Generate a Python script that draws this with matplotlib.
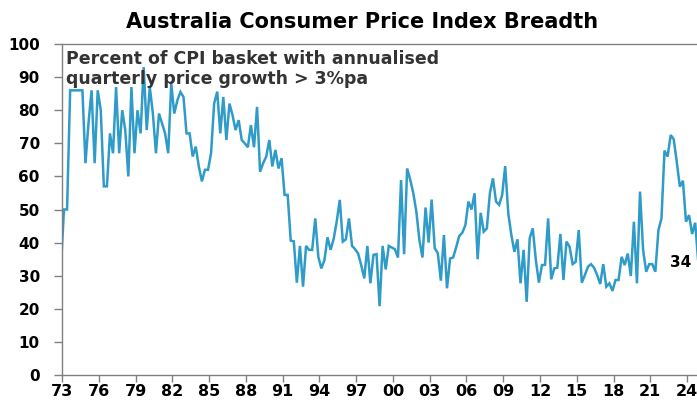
import matplotlib
matplotlib.use("Agg")
import matplotlib.pyplot as plt
import pandas as pd

# Percent of CPI basket with annualised quarterly price growth > 3%pa
# quarterly, Dec 1972 .. Dec 2024
breadth = [
    33, 50, 50, 86, 86, 86, 86, 86, 64, 76, 86,
    64, 86, 80, 57, 57, 73, 67, 87, 67, 80,
    74, 60, 87, 67, 80, 73, 93, 74, 87, 79,
    67, 79, 76, 73, 67, 88, 79, 83, 85.5, 84,
    73, 73, 66, 69, 63, 58.5, 62, 62, 67, 82,
    85.6, 73, 84, 71, 82, 78.5, 74, 77, 71, 70,
    68.8, 75.5, 68.8, 81, 61.4, 64, 66, 71, 63, 68,
    62.4, 65.5, 54.4, 54.4, 40.6, 40.4, 27.9, 39, 26.7, 39,
    37.8, 37.8, 47.3, 35.7, 32.2, 34.7, 41.6, 37.8, 41, 46.3,
    52.9, 40.3, 41, 47.3, 39, 38, 36.7, 33.2, 29.2, 39,
    27.7, 36.3, 36.5, 20.8, 39, 31.9, 39, 38.5, 38, 35.5,
    58.9, 36.5, 62.4, 59, 54.9, 49.3, 40.8, 35.5, 50.6, 40,
    53, 38.3, 36.8, 28.5, 42.3, 26.2, 35.2, 35.5, 38.6, 42,
    43, 45.3, 52.4, 50, 54.9, 35, 49, 43.3, 44.3, 54.9,
    59.4, 52.4, 51.4, 54.4, 63.1, 48.8, 42.3, 37.2, 41, 27.7,
    37.8, 22.1, 41.3, 44.3, 34.7, 27.9, 33.2, 33.3, 47.3, 28.9,
    32.2, 32.4, 42.6, 28.7, 40.3, 38.8, 33.5, 34.2, 43.8, 27.9,
    30.2, 32.7, 33.5, 32.4, 30.2, 27.5, 33.5, 26.7, 27.7, 25.4,
    28.7, 28.7, 35.7, 33.2, 36.7, 29.9, 46.3, 27.7, 55.4, 37.8,
    31.2, 33.5, 33.5, 31.2, 43.8, 47.3, 67.8, 66, 72.5, 71.2,
    64.4, 56.9, 58.7, 46.3, 48.3, 42.6, 46, 34,
]
dates = pd.date_range("1972-12-01", periods=len(breadth), freq="3MS")

tick_years = list(range(1973, 2025, 3))
tick_labels = [f"{y % 100:02d}" for y in tick_years]
y_ticks = list(range(0, 101, 10))

line_color = "#2f9bc8"
spine_color = "#808080"

plt.rcParams["font.family"] = ["DejaVu Sans"]
plt.rcParams["font.weight"] = "bold"

fig = plt.figure(figsize=(6.97, 4.01), dpi=100)
ax = fig.add_axes([62 / 697, 26 / 401, 637.3 / 697, 331 / 401])

ax.plot(dates, breadth, color=line_color, lw=1.8, solid_joinstyle="miter")

ax.set_xlim(pd.Timestamp("1973-01-01"), pd.Timestamp("2025-01-01"))
ax.set_ylim(0, 100)
ax.set_xticks([pd.Timestamp(f"{y}-01-01") for y in tick_years])
ax.set_xticklabels(tick_labels, fontsize=11.5, fontweight="bold")
ax.set_yticks(y_ticks)
ax.set_yticklabels([str(v) for v in y_ticks], fontsize=11, fontweight="bold")

for side in ["left", "bottom", "top"]:
    ax.spines[side].set_color(spine_color)
    ax.spines[side].set_linewidth(1.0)
ax.spines["right"].set_visible(False)
ax.tick_params(axis="y", length=6, width=1, color=spine_color, pad=10)
ax.tick_params(axis="x", length=5, width=1, color=spine_color, pad=1.5)

ax.text(0.006, 0.982,
        "Percent of CPI basket with annualised\nquarterly price growth > 3%pa",
        transform=ax.transAxes, ha="left", va="top", fontsize=12.5,
        fontweight="bold", color="#333333", linespacing=1.15)

# last value label
ax.annotate(f"{breadth[-1]:.0f}", xy=(dates[-1], breadth[-1]), xytext=(-5, 0),
            textcoords="offset points", ha="right", va="center",
            fontsize=11, fontweight="bold", color="black")

fig.text(362 / 697, 1 - 22 / 401, "Australia Consumer Price Index Breadth",
         ha="center", va="center", fontsize=15, fontweight="bold", color="black")

fig.savefig("out.png", dpi=100)
